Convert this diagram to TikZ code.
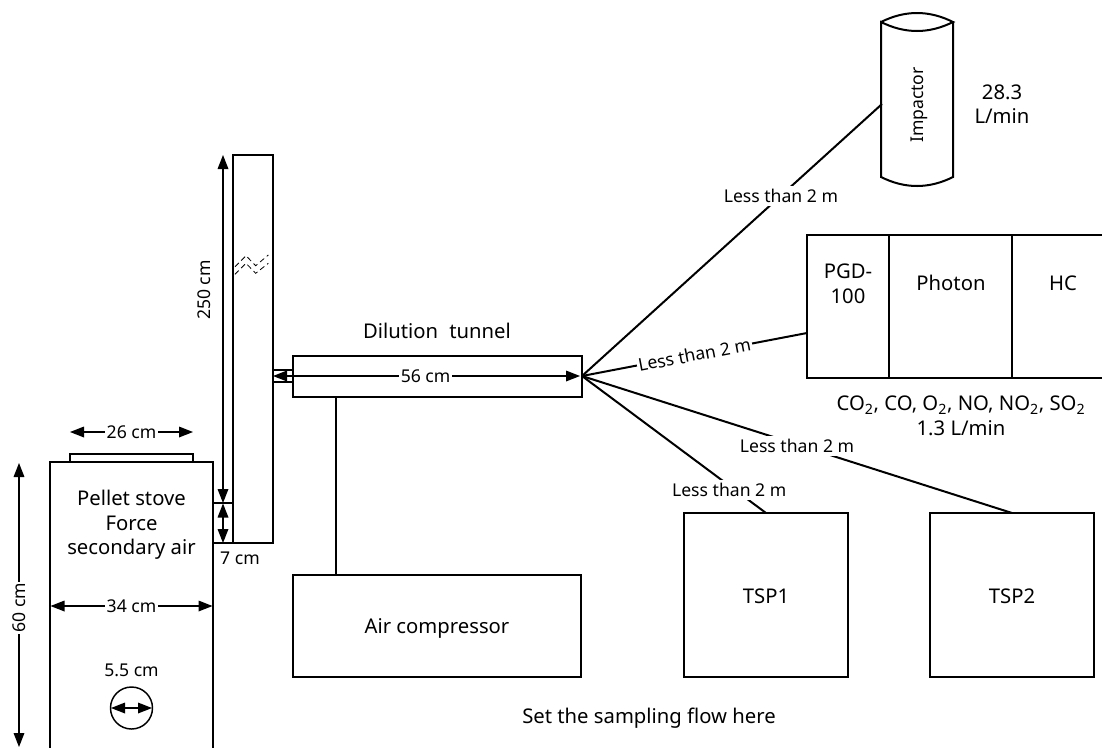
\documentclass[tikz,border=0pt]{standalone}
\usepackage{fontspec}
\setmainfont{Noto Sans}
\usetikzlibrary{positioning,arrows.meta,calc}
\begin{document}
\begin{tikzpicture}[
  x=0.75pt, y=-0.75pt,
  box/.style      = {rectangle, draw, line width=1.5pt, inner sep=0pt, outer sep=0pt, anchor=north west},
  txt/.style      = {font=\fontsize{15.2}{18.4}\selectfont, align=center, inner sep=1pt},
  lbl/.style      = {font=\fontsize{13.2}{15}\selectfont, inner sep=1pt},
  gaplbl/.style   = {lbl, fill=white, inner ysep=2.5pt},
  dimline/.style  = {line width=0.9pt, {Triangle[length=10.5pt,width=8pt]}-{Triangle[length=10.5pt,width=8pt]}},
  link/.style     = {line width=1.5pt}
]
\clip (0,0) rectangle (1102,747);

% Stove and chimney
\node[box, minimum width=122.25pt, minimum height=225pt] (stove) at (50,462) {};
\node[box, minimum width=92.25pt, minimum height=6pt] (lid) at (70,454) {};
\node[box, minimum width=30pt, minimum height=291pt] (chimney) at (233,155) {};
\node[box, minimum width=15pt, minimum height=30pt] (base) at (213,503) {};
\node[box, minimum width=15pt, minimum height=9pt] (pipe) at (273,370) {};
\node[draw, circle, line width=1.1pt, minimum size=31.5pt, inner sep=0pt, outer sep=0pt] (flue) at (131.5,708) {};

% Chimney break marks
\draw[line width=0.6pt, dash pattern=on 4pt off 2.6pt] (235,266.7) -- (246,255.7) -- (255.7,265.7) -- (268.3,255);
\draw[line width=0.6pt, dash pattern=on 4pt off 2.6pt] (235,274.3) -- (246,263.3) -- (255.7,273.3) -- (268.3,263.3);

% Tunnel and compressor
\node[box, fill=white, minimum width=216.75pt, minimum height=30.75pt] (tunnel) at (293,356) {};
\node[box, minimum width=216pt, minimum height=76.5pt] (compressor) at (293,575) {};
\draw[link] (tunnel.south west -| 336,0) -- (compressor.north west -| 336,0);

% Instruments
\node[box, minimum width=61.5pt, minimum height=107.25pt] (pgd) at (807,235) {};
\node[box, minimum width=92.25pt, minimum height=107.25pt] (photon) at (889,235) {};
\node[box, minimum width=90pt, minimum height=107.25pt] (hc) at (1012,235) {};
\node[box, minimum width=123pt, minimum height=123pt] (tspone) at (684,513) {};
\node[box, minimum width=123pt, minimum height=123pt] (tsptwo) at (930,513) {};

% Impactor
\coordinate (impNW) at (881,22);
\coordinate (impNE) at (953,22);
\coordinate (impSW) at (881,177);
\coordinate (impSE) at (953,177);
\draw[link] (impNW) .. controls (905,10) and (929,10) .. (impNE)
  .. controls (929,34) and (905,34) .. (impNW) -- (impSW)
  .. controls (905,189) and (929,189) .. (impSE) -- (impNE);
\coordinate (impin) at (882,104);
\coordinate (pgdin) at (807,333);

% Sampling lines
\coordinate (hub) at (582,376);
\draw[link] (hub) -- node[gaplbl, pos=0.663] (lessimp) {Less than 2 m} (impin);
\draw[link] (hub) -- node[gaplbl, sloped, pos=0.5] (lesspgd) {Less than 2 m} (pgdin);
\draw[link] (hub) -- node[gaplbl, pos=0.5, yshift=-1pt] (lesstwo) {Less than 2 m} (tsptwo.north);
\draw[link] (hub) -- node[gaplbl, pos=0.8, yshift=-3pt] (lessone) {Less than 2 m} (tspone.north);

% Dimensions
\coordinate (sixtyT) at (19,463);
\coordinate (sixtyB) at (19,747);
\coordinate (lidL) at (70,432);
\coordinate (lidR) at (193,432);
\coordinate (stoveL) at (50.5,606);
\coordinate (stoveR) at (212.5,606);
\coordinate (flueL) at (111,708);
\coordinate (flueR) at (152,708);
\coordinate (tallT) at (223,155);
\coordinate (tallB) at (223,503);
\coordinate (baseT) at (223,503.5);
\coordinate (baseB) at (223,543);
\coordinate (longL) at (273,376);
\coordinate (longR) at (580,376);
\draw[dimline] (sixtyT) -- node[gaplbl, rotate=90, pos=0.51] (lblsixty) {60 cm} (sixtyB);
\draw[dimline] (lidL) -- node[gaplbl] (lbllid) {26 cm} (lidR);
\draw[dimline] (stoveL) -- node[gaplbl] (lblstove) {34 cm} (stoveR);
\draw[dimline] (flueL) -- (flueR);
\draw[dimline] (tallT) -- (tallB);
\draw[dimline] (baseT) -- (baseB);
\draw[dimline] (longL) -- node[gaplbl, pos=0.497] (lbllong) {56 cm} (longR);

% Labels
\node[lbl, rotate=90] (lbltall) at (204,290) {250 cm};
\node[lbl] (lblbase) at (240,558) {7 cm};
\node[lbl] (lblflue) at (131.5,670) {5.5 cm};
\node[lbl, rotate=90] (lblimp) at (919,105) {Impactor};
\node[txt] (lblstv) at (131.5,525) {Pellet stove\\Force\\secondary air};
\node[txt] (lbltun) at (437,331) {Dilution\hspace{0.55em}tunnel};
\node[txt] (lblcomp) at (437,628) {Air compressor};
\node[txt] (lblrate) at (1002,104) {28.3\\L/min};
\node[txt] (lblpgd) at (848,284) {PGD-\\100};
\node[txt] (lblpho) at (951,283) {Photon};
\node[txt] (lblhc) at (1063,283) {HC};
\node[txt] (lblgas) at (961,416) {CO\textsubscript{2}, CO, O\textsubscript{2}, NO, NO\textsubscript{2}, SO\textsubscript{2}\\1.3 L/min};
\node[txt] (lblone) at (766,596) {TSP1};
\node[txt] (lbltwo) at (1012,596) {TSP2};
\node[txt] (lblset) at (649,718) {Set the sampling flow here};
\end{tikzpicture}
\end{document}
